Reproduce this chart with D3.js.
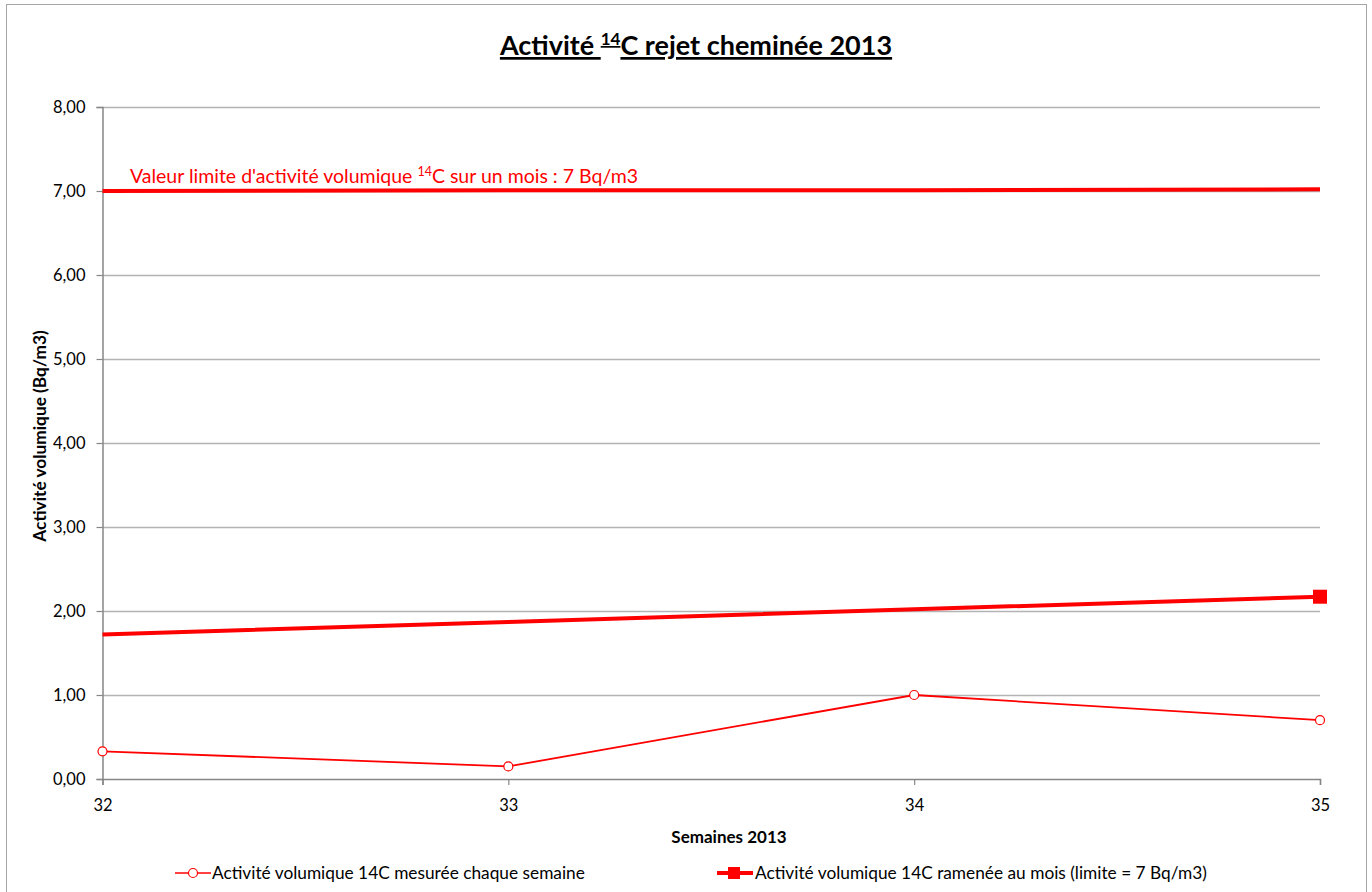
<!DOCTYPE html>
<html><head><meta charset="utf-8">
<script src="https://cdn.jsdelivr.net/npm/d3@7"></script>
<style>body{margin:0;background:#fff}svg{display:block}text{font-family:Lato,"Open Sans",sans-serif}</style>
</head><body>
<svg id="c" width="1372" height="892"></svg>
<script>
const weeks = [32, 33, 34, 35];
const weekly = [0.33, 0.15, 1.00, 0.70];
const monthly = [1.72, 1.87, 2.02, 2.17];
const limitVals = [7.00, 7.01, 7.01, 7.02];
const yTicks = [0, 1, 2, 3, 4, 5, 6, 7, 8];
const xTicks = [32, 33, 34, 35];

const svg = d3.select("#c");
const red = "#ff0000";
svg.append("rect").attr("x", 6.5).attr("y", 4.5).attr("width", 1360).attr("height", 900)
  .attr("fill", "#fff").attr("stroke", "#a6a6a6");

const x = d3.scaleLinear().domain([32, 35]).range([102.5, 1320]);
const y = d3.scaleLinear().domain([0, 8]).range([779, 107]);

// gridlines
svg.append("g").selectAll("line").data(yTicks.slice(1)).join("line")
  .attr("x1", x(32)).attr("x2", x(35)).attr("y1", d => Math.round(y(d)) + 0.5).attr("y2", d => Math.round(y(d)) + 0.5)
  .attr("stroke", "#b3b3b3").attr("stroke-width", 1.3);

const fmt = d => d3.format(".2f")(d).replace(".", ",");
const ya = svg.append("g").attr("transform", `translate(${x(32)},0)`)
  .call(d3.axisLeft(y).tickValues(yTicks).tickSize(6).tickPadding(11).tickFormat(fmt));
const xa = svg.append("g").attr("transform", `translate(0,${y(0)})`)
  .call(d3.axisBottom(x).tickValues(xTicks).tickSize(6).tickPadding(14).tickFormat(d3.format("d")));
[ya, xa].forEach(a => {
  a.select(".domain").attr("stroke", "#868686").attr("stroke-width", 1.5);
  a.selectAll(".tick line").attr("stroke", "#868686").attr("stroke-width", 1.2);
  a.selectAll("text").attr("font-size", 16.5).attr("fill", "#000").attr("font-family", "Lato, sans-serif");
});

// title
const t = svg.append("text").attr("x", 696).attr("y", 55).attr("text-anchor", "middle")
  .attr("font-size", 27).attr("font-weight", "bold").attr("text-decoration", "underline");
t.append("tspan").text("Activité ");
t.append("tspan").attr("font-size", 17).attr("dy", -10).text("14");
t.append("tspan").attr("dy", 10).text("C rejet cheminée 2013");

// axis titles
svg.append("text").attr("transform", `translate(46,436) rotate(-90)`).attr("text-anchor", "middle")
  .attr("font-size", 17.3).attr("font-weight", "bold").text("Activité volumique (Bq/m3)");
svg.append("text").attr("x", 729).attr("y", 843).attr("text-anchor", "middle")
  .attr("font-size", 17).attr("font-weight", "bold").text("Semaines 2013");

const line = d3.line().x((d, i) => x(weeks[i])).y(d => y(d));
// limit line
svg.append("path").datum(limitVals).attr("d", line).attr("fill", "none").attr("stroke", red).attr("stroke-width", 4);
// annotation
const an = svg.append("text").attr("x", 130).attr("y", 183).attr("font-size", 19.5).attr("fill", red);
an.append("tspan").text("Valeur limite d'activité volumique ");
an.append("tspan").attr("font-size", 12.5).attr("dy", -7).text("14");
an.append("tspan").attr("dy", 7).text("C sur un mois : 7 Bq/m3");

// monthly
svg.append("path").datum(monthly).attr("d", line).attr("fill", "none").attr("stroke", red).attr("stroke-width", 4);
svg.append("rect").attr("x", x(weeks[3]) - 7).attr("y", y(monthly[3]) - 7).attr("width", 14).attr("height", 14).attr("fill", red);

// weekly
svg.append("path").datum(weekly).attr("d", line).attr("fill", "none").attr("stroke", red).attr("stroke-width", 1.8);
svg.append("g").selectAll("circle").data(weekly).join("circle")
  .attr("cx", (d, i) => x(weeks[i])).attr("cy", d => y(d)).attr("r", 4.5)
  .attr("fill", "#fff").attr("stroke", red).attr("stroke-width", 1.2);

// legend
const lg = svg.append("g");
lg.append("line").attr("x1", 175).attr("x2", 211).attr("y1", 873).attr("y2", 873).attr("stroke", red).attr("stroke-width", 1.5);
lg.append("circle").attr("cx", 193).attr("cy", 873).attr("r", 4.5).attr("fill", "#fff").attr("stroke", red).attr("stroke-width", 1.2);
lg.append("text").attr("x", 212).attr("y", 879).attr("font-size", 17.3).text("Activité volumique 14C mesurée chaque semaine");
lg.append("line").attr("x1", 717).attr("x2", 753).attr("y1", 873).attr("y2", 873).attr("stroke", red).attr("stroke-width", 4);
lg.append("rect").attr("x", 728).attr("y", 867).attr("width", 12).attr("height", 12).attr("fill", red);
lg.append("text").attr("x", 755).attr("y", 879).attr("font-size", 17.3).text("Activité volumique 14C ramenée au mois (limite = 7 Bq/m3)");
</script>
</body></html>
